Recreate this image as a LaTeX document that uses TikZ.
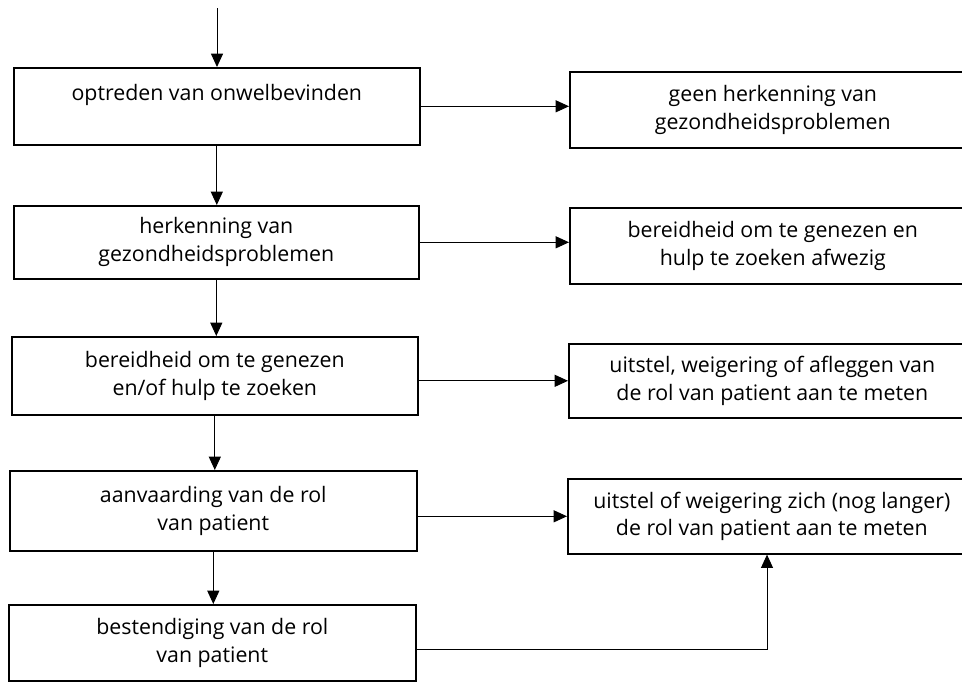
\documentclass[tikz,border=0pt]{standalone}
\usepackage{fontspec}
\setmainfont{Open Sans}
\usetikzlibrary{arrows.meta,calc}
\begin{document}
\begin{tikzpicture}[x=0.75pt,y=-0.75pt,
  box/.style={draw, line width=1.2pt, anchor=north west, align=center, inner sep=0pt,
    font=\fontsize{16}{20.8}\selectfont},
  arr/.style={line width=0.75pt, -{Triangle[length=10pt,width=9pt]}},
  ln/.style={line width=0.75pt}]
\useasboundingbox (0,0) rectangle (962,682);
\clip (0,0) rectangle (962,682);
% left column
\node[box, minimum width=304.5pt, minimum height=57.75pt] (b1) at (13,67) {optreden van onwelbevinden\\~};
\node[box, minimum width=303.75pt, minimum height=54.75pt] (b2) at (13,205) {herkenning van\\gezondheidsproblemen};
\node[box, minimum width=304.5pt, minimum height=58.5pt] (b3) at (11,336) {bereidheid om te genezen\\en/of hulp te zoeken};
\node[box, minimum width=305.25pt, minimum height=60pt] (b4) at (9,470) {aanvaarding van de rol\\van patient};
\node[box, minimum width=305.25pt, minimum height=57pt] (b5) at (8,604) {bestendiging van de rol\\van patient};
% right column
\node[box, minimum width=304.5pt, minimum height=57pt] (r1) at (569,71) {geen herkenning van\\gezondheidsproblemen};
\node[box, minimum width=304.5pt, minimum height=57pt] (r2) at (569,207) {bereidheid om te genezen en\\hulp te zoeken afwezig};
\node[box, minimum width=305.25pt, minimum height=55.5pt] (r3) at (568,343) {uitstel, weigering of afleggen van\\de rol van patient aan te meten};
\node[box, minimum width=306pt, minimum height=56.25pt] (r4) at (567,478) {uitstel of weigering zich (nog langer)\\de rol van patient aan te meten};
% vertical arrows
\coordinate (top) at (217,8);
\draw[arr] (top) -- (top |- b1.north);
\draw[arr] (b1.south) -- (b1.south |- b2.north);
\draw[arr] (b2.south) -- (b2.south |- b3.north);
\draw[arr] (b3.south) -- (b3.south |- b4.north);
\draw[arr] (b4.south) -- (b4.south |- b5.north);
% horizontal arrows
\draw[arr] (b1.east) -- (b1.east -| r1.west);
\draw[arr] (b2.east) -- (b2.east -| r2.west);
\draw[arr] (r3.west -| b3.east) -- (r3.west);
\draw[arr] (r4.west -| b4.east) -- (r4.west);
% feedback
\coordinate (k) at (767,649);
\draw[arr] (b5.east |- k) -| (r4.south -| k);
\end{tikzpicture}
\end{document}
